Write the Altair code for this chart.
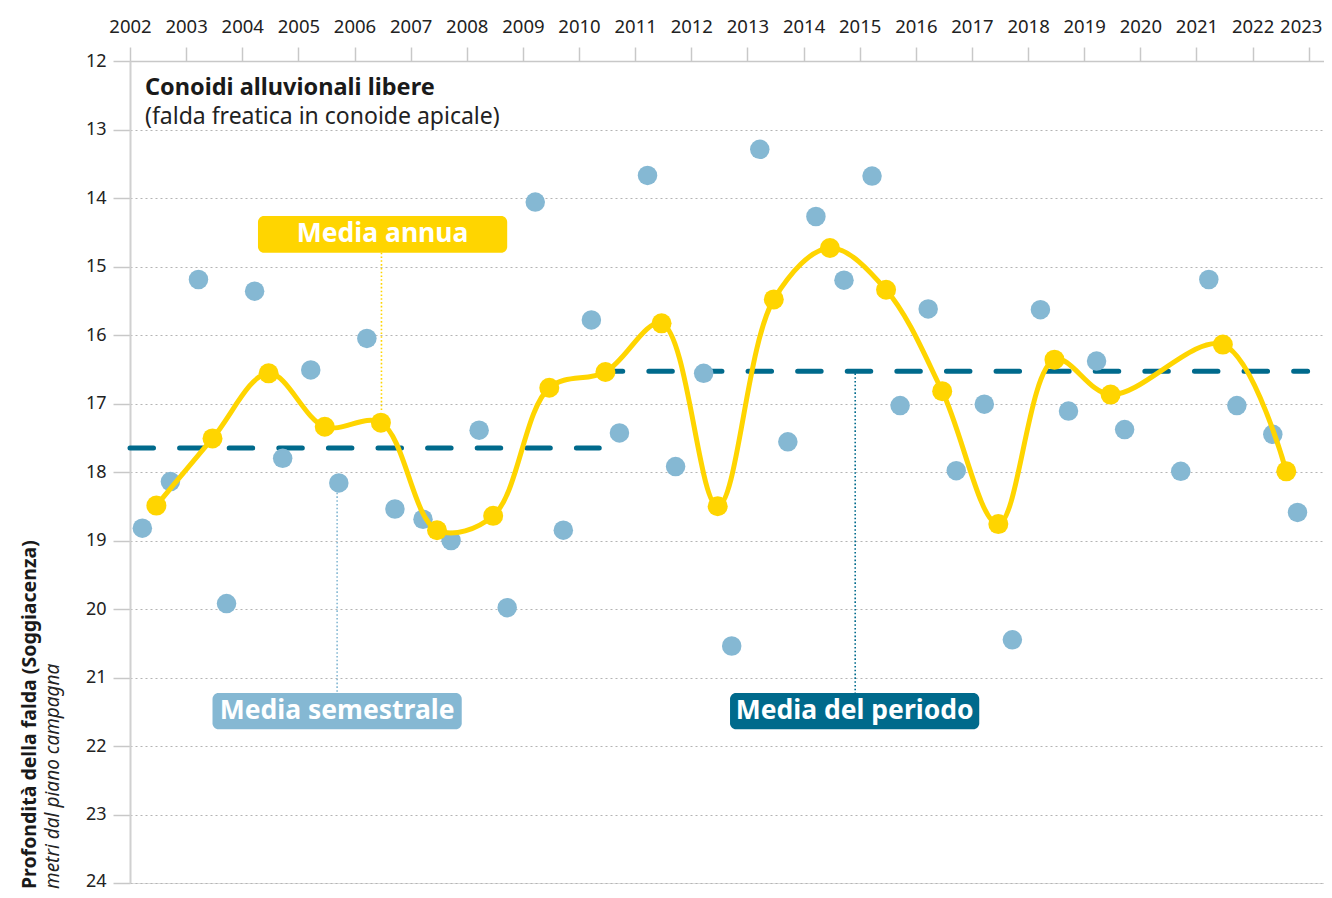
import altair as alt
import pandas as pd

# ---------------- data ----------------
years = list(range(2002, 2024))
depth_ticks = list(range(12, 25))

# semestral measurements (spring / autumn campaigns)
sem_x = [2002.22, 2002.72, 2003.22, 2003.72, 2004.22, 2004.72, 2005.22, 2005.72,
         2006.22, 2006.72, 2007.22, 2007.72, 2008.22, 2008.72, 2009.22, 2009.72,
         2010.22, 2010.72, 2011.22, 2011.72, 2012.22, 2012.72, 2013.22, 2013.72,
         2014.22, 2014.72, 2015.22, 2015.72, 2016.22, 2016.72, 2017.22, 2017.72,
         2018.22, 2018.72, 2019.22, 2019.72, 2020.72, 2021.22, 2021.72, 2022.36, 2022.80]
sem_y = [18.82, 18.14, 15.19, 19.92, 15.36, 17.80, 16.51, 18.16,
         16.05, 18.54, 18.69, 19.00, 17.39, 19.98, 14.06, 18.85,
         15.78, 17.43, 13.67, 17.92, 16.56, 20.54, 13.29, 17.56,
         14.27, 15.20, 13.68, 17.03, 15.62, 17.98, 17.01, 20.45,
         15.63, 17.11, 16.38, 17.38, 17.99, 15.19, 17.03, 17.45, 18.59]

# annual means
ann_x = [2002.47, 2003.47, 2004.47, 2005.47, 2006.47, 2007.47, 2008.47, 2009.47,
         2010.47, 2011.47, 2012.47, 2013.47, 2014.47, 2015.47, 2016.47, 2017.47,
         2018.47, 2019.47, 2021.47, 2022.60]
ann_y = [18.49, 17.51, 16.56, 17.34, 17.28, 18.85, 18.64, 16.77,
         16.54, 15.83, 18.50, 15.48, 14.73, 15.34, 16.82, 18.76,
         16.36, 16.87, 16.14, 17.99]

# period means
per_x0 = [2002.0, 2010.36]
per_x1 = [2010.36, 2022.98]
per_y = [17.65, 16.53]

# annotation labels
lab_text = ["Media annua", "Media semestrale", "Media del periodo"]
lab_xc = [2006.50, 2005.69, 2014.91]
lab_x0 = [2004.28, 2003.47, 2012.69]
lab_x1 = [2008.72, 2007.91, 2017.13]
lab_y0 = [14.263, 21.225, 21.225]
lab_y1 = [14.798, 21.757, 21.757]
lab_col = ["#FFD500", "#85B8D3", "#006A8C"]

# leader lines
lead_x = [2006.48, 2005.69, 2014.92]
lead_y0 = [14.798, 18.30, 16.56]
lead_y1 = [17.12, 21.225, 21.225]
lead_col = ["#FFD500", "#85B8D3", "#006A8C"]

FONT = "Noto Sans"

sem = pd.DataFrame({"x": sem_x, "y": sem_y})
ann = pd.DataFrame({"x": ann_x, "y": ann_y})
per = pd.DataFrame({"x0": per_x0, "x1": per_x1, "y": per_y})
labs = pd.DataFrame({"t": lab_text, "xc": lab_xc, "x0": lab_x0, "x1": lab_x1,
                     "y0": lab_y0, "y1": lab_y1, "c": lab_col,
                     "yc": [(a + b) / 2 for a, b in zip(lab_y0, lab_y1)]})
leads = pd.DataFrame({"x": lead_x, "y0": lead_y0, "y1": lead_y1, "c": lead_col})

W, H = 1194, 822
xscale = alt.Scale(domain=[2002, 2002 + W / 56.13], nice=False, zero=False)
yscale = alt.Scale(domain=[12, 24], reverse=True, nice=False, zero=False)

xaxis = alt.Axis(orient="top", values=years, format="d", title=None, grid=False,
                 labelFontSize=18.5, labelColor="#222222", labelFont=FONT,
                 tickColor="#c8c8c8", tickSize=14, tickWidth=1.5,
                 domainColor="#c8c8c8", domainWidth=1.5, labelPadding=11,
                 labelFlush=False, labelBound=False,
                 labelOffset={"condition": {"test": "datum.value == 2023", "value": -8},
                              "value": 0})
yaxis = alt.Axis(values=depth_ticks, title=None, grid=True, gridDash=[2, 3],
                 gridColor="#b4b4b4", gridWidth=1, labelFontSize=18,
                 labelColor="#222222", labelFont=FONT, tickColor="#c8c8c8",
                 tickSize=17, tickWidth=1.5, domainColor="#d0d0d0", domainWidth=2,
                 labelPadding=7,
                 labelOffset={"condition": {"test": "datum.value == 24", "value": -2},
                              "value": 0})

X = lambda f: alt.X(f, type="quantitative", scale=xscale, axis=xaxis)
Y = lambda f: alt.Y(f, type="quantitative", scale=yscale, axis=yaxis)

period = alt.Chart(per).mark_rule(strokeWidth=5, strokeDash=[23.5, 26.1],
                                  strokeCap="round", color="#006A8C").encode(
    x=X("x0"), x2="x1", y=Y("y"))

leaders = alt.Chart(leads).mark_rule(strokeWidth=1.6, strokeDash=[1.6, 2.2]).encode(
    x=X("x"), y=Y("y0"), y2="y1", color=alt.Color("c:N", scale=None))

blue = alt.Chart(sem).mark_circle(size=380, opacity=1, color="#85B8D3").encode(
    x=X("x"), y=Y("y"))

line = alt.Chart(ann).mark_line(interpolate="catmull-rom", strokeWidth=5,
                                color="#FFD500").encode(x=X("x"), y=Y("y"))
ydots = alt.Chart(ann).mark_circle(size=400, opacity=1, color="#FFD500").encode(
    x=X("x"), y=Y("y"))

boxes = alt.Chart(labs).mark_rect(cornerRadius=6).encode(
    x=X("x0"), x2="x1", y=Y("y0"), y2="y1", color=alt.Color("c:N", scale=None))
boxtext = alt.Chart(labs).mark_text(font=FONT, fontSize=26.5, fontWeight="bold",
                                    color="white", baseline="middle",
                                    align="center").encode(
    x=X("xc"), y=Y("yc"), text="t:N")

title1 = alt.Chart(pd.DataFrame({"t": ["Conoidi alluvionali libere"]})).mark_text(
    font=FONT, fontSize=23.5, fontWeight="bold", color="#1a1a1a", align="left",
    baseline="middle").encode(x=alt.value(15), y=alt.value(27), text="t:N")
title2 = alt.Chart(pd.DataFrame({"t": ["(falda freatica in conoide apicale)"]})).mark_text(
    font=FONT, fontSize=23, color="#222222", align="left",
    baseline="middle").encode(x=alt.value(15), y=alt.value(56), text="t:N")

ytitle1 = alt.Chart(pd.DataFrame({"t": ["Profondità della falda (Soggiacenza)"]})).mark_text(
    font=FONT, fontSize=19.5, fontWeight="bold", color="#1a1a1a", align="left",
    baseline="middle", angle=270).encode(x=alt.value(-100), y=alt.value(828), text="t:N")
ytitle2 = alt.Chart(pd.DataFrame({"t": ["metri dal piano campagna"]})).mark_text(
    font=FONT, fontSize=19, fontStyle="italic", color="#222222", align="left",
    baseline="middle", angle=270).encode(x=alt.value(-77), y=alt.value(828), text="t:N")

chart = alt.layer(period, leaders, blue, line, ydots, boxes, boxtext,
                  title1, title2, ytitle1, ytitle2).properties(
    width=W, height=H,
    autosize=alt.AutoSizeParams(type="none"),
    padding={"left": 122, "top": 53, "right": 0, "bottom": 7},
).configure_view(stroke=None).configure(background="white")

chart.save("out.html", embed_options={"renderer": "svg", "actions": False})
